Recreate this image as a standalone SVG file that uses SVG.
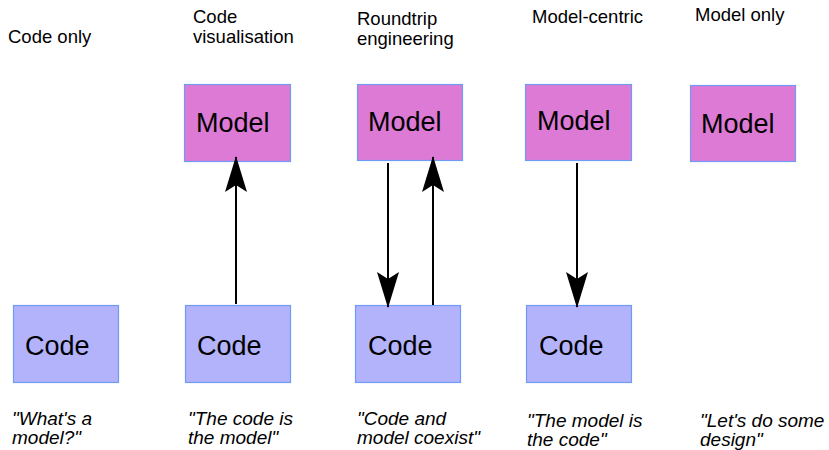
<svg xmlns="http://www.w3.org/2000/svg" width="829" height="450" viewBox="0 0 829 450">
<style>
.model{fill:#dd7ad6;stroke:#6f9cf2;stroke-width:1.2}
.code{fill:#b3b3fc;stroke:#6f9cf2;stroke-width:1.2}
.big{font-family:"Liberation Sans",Arial,sans-serif;font-size:27px;fill:#000}
.title{font-family:"Liberation Sans",Arial,sans-serif;font-size:18.5px;fill:#000}
.quote{font-family:"Liberation Sans",Arial,sans-serif;font-size:19px;font-style:italic;fill:#000}
.conn{stroke:#000;stroke-width:2;fill:none}
</style>
<defs>
<marker id="ah" viewBox="0 0 36 22" refX="35" refY="11" markerWidth="36" markerHeight="22" markerUnits="userSpaceOnUse" orient="auto">
<path d="M0,0 L36,11 L0,22 L7,11 Z" fill="#000"/>
</marker>
</defs>
<rect width="829" height="450" fill="#fff"/>
<g id="titles">
<text class="title" x="8" y="43">Code only</text>
<text class="title" x="193" y="23">Code</text>
<text class="title" x="193" y="43">visualisation</text>
<text class="title" x="357" y="25">Roundtrip</text>
<text class="title" x="357" y="45">engineering</text>
<text class="title" x="532" y="23">Model-centric</text>
<text class="title" x="695" y="21">Model only</text>
</g>
<g id="model1"><rect class="model" x="184.5" y="84.5" width="106" height="77"/><text class="big" x="196" y="132">Model</text></g>
<g id="model2"><rect class="model" x="357.5" y="84.5" width="105" height="76"/><text class="big" x="368" y="131">Model</text></g>
<g id="model3"><rect class="model" x="525.5" y="84.5" width="106" height="76"/><text class="big" x="537" y="130">Model</text></g>
<g id="model4"><rect class="model" x="690.5" y="85.5" width="105" height="76"/><text class="big" x="701" y="133">Model</text></g>
<g id="code1"><rect class="code" x="13.5" y="305.5" width="105" height="77"/><text class="big" x="25" y="355">Code</text></g>
<g id="code2"><rect class="code" x="185.5" y="305.5" width="105" height="77"/><text class="big" x="197" y="355">Code</text></g>
<g id="code3"><rect class="code" x="355.5" y="305.5" width="105" height="77"/><text class="big" x="368" y="355">Code</text></g>
<g id="code4"><rect class="code" x="526.5" y="305.5" width="105" height="77"/><text class="big" x="539" y="355">Code</text></g>
<g id="connectors">
<line class="conn" x1="236" y1="304" x2="236" y2="157" marker-end="url(#ah)"/>
<line class="conn" x1="388" y1="163" x2="388" y2="307" marker-end="url(#ah)"/>
<line class="conn" x1="433" y1="305" x2="433" y2="157" marker-end="url(#ah)"/>
<line class="conn" x1="577" y1="163" x2="577" y2="307" marker-end="url(#ah)"/>
</g>
<g id="quotes">
<text class="quote" x="12" y="425">"What's a</text>
<text class="quote" x="12" y="444">model?"</text>
<text class="quote" x="188" y="425">"The code is</text>
<text class="quote" x="188" y="444">the model"</text>
<text class="quote" x="357" y="425">"Code and</text>
<text class="quote" x="357" y="444">model coexist"</text>
<text class="quote" x="527" y="427">"The model is</text>
<text class="quote" x="527" y="446">the code"</text>
<text class="quote" x="700" y="427">"Let's do some</text>
<text class="quote" x="700" y="446">design"</text>
</g>
</svg>
